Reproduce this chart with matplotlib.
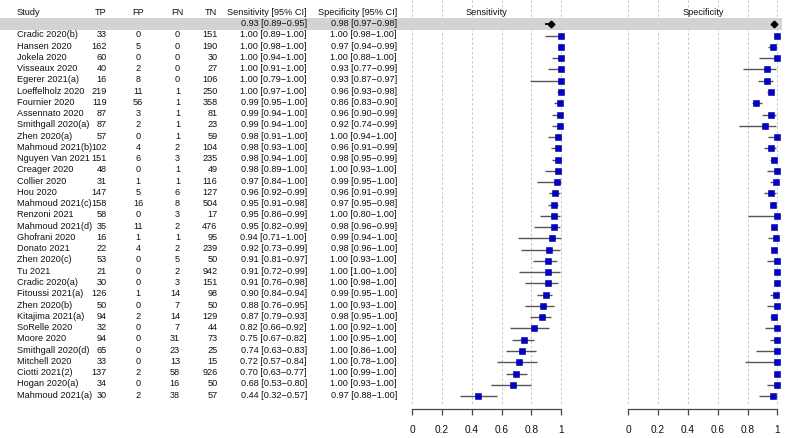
import matplotlib
matplotlib.use("Agg")
import matplotlib.pyplot as plt
from matplotlib.transforms import blended_transform_factory
from matplotlib.patches import Rectangle

studies = ["Cradic 2020(b)", "Hansen 2020", "Jokela 2020", "Visseaux 2020", "Egerer 2021(a)",
           "Loeffelholz 2020", "Fournier 2020", "Assennato 2020", "Smithgall 2020(a)", "Zhen 2020(a)",
           "Mahmoud 2021(b)", "Nguyen Van 2021", "Creager 2020", "Collier 2020", "Hou 2020",
           "Mahmoud 2021(c)", "Renzoni 2021", "Mahmoud 2021(d)", "Ghofrani 2020", "Donato 2021",
           "Zhen 2020(c)", "Tu 2021", "Cradic 2020(a)", "Fitoussi 2021(a)", "Zhen 2020(b)",
           "Kitajima 2021(a)", "SoRelle 2020", "Moore 2020", "Smithgall 2020(d)", "Mitchell 2020",
           "Ciotti 2021(2)", "Hogan 2020(a)", "Mahmoud 2021(a)"]
tp = [33, 162, 60, 40, 16, 219, 119, 87, 87, 57, 102, 151, 48, 31, 147, 158, 58, 35, 16, 22,
      53, 21, 30, 126, 50, 94, 32, 94, 65, 33, 137, 34, 30]
fp = [0, 5, 0, 2, 8, 11, 56, 3, 2, 0, 4, 6, 0, 1, 5, 16, 0, 11, 1, 4,
      0, 0, 0, 1, 0, 2, 0, 0, 0, 0, 2, 0, 2]
fn = [0, 0, 0, 0, 0, 1, 1, 1, 1, 1, 2, 3, 1, 1, 6, 8, 3, 2, 1, 2,
      5, 2, 3, 14, 7, 14, 7, 31, 23, 13, 58, 16, 38]
tn = [151, 190, 30, 27, 106, 250, 358, 81, 23, 59, 104, 235, 49, 116, 127, 504, 17, 476, 95, 239,
      50, 942, 151, 98, 50, 129, 44, 73, 25, 15, 926, 50, 57]
sens = [1.00, 1.00, 1.00, 1.00, 1.00, 1.00, 0.99, 0.99, 0.99, 0.98, 0.98, 0.98, 0.98, 0.97, 0.96,
        0.95, 0.95, 0.95, 0.94, 0.92, 0.91, 0.91, 0.91, 0.90, 0.88, 0.87, 0.82, 0.75, 0.74, 0.72,
        0.70, 0.68, 0.44]
sens_lo = [0.89, 0.98, 0.94, 0.91, 0.79, 0.97, 0.95, 0.94, 0.94, 0.91, 0.93, 0.94, 0.89, 0.84, 0.92,
           0.91, 0.86, 0.82, 0.71, 0.73, 0.81, 0.72, 0.76, 0.84, 0.76, 0.79, 0.66, 0.67, 0.63, 0.57,
           0.63, 0.53, 0.32]
sens_hi = [1.00, 1.00, 1.00, 1.00, 1.00, 1.00, 1.00, 1.00, 1.00, 1.00, 1.00, 1.00, 1.00, 1.00, 0.99,
           0.98, 0.99, 0.99, 1.00, 0.99, 0.97, 0.99, 0.98, 0.94, 0.95, 0.93, 0.92, 0.82, 0.83, 0.84,
           0.77, 0.80, 0.57]
spec = [1.00, 0.97, 1.00, 0.93, 0.93, 0.96, 0.86, 0.96, 0.92, 1.00, 0.96, 0.98, 1.00, 0.99, 0.96,
        0.97, 1.00, 0.98, 0.99, 0.98, 1.00, 1.00, 1.00, 0.99, 1.00, 0.98, 1.00, 1.00, 1.00, 1.00,
        1.00, 1.00, 0.97]
spec_lo = [0.98, 0.94, 0.88, 0.77, 0.87, 0.93, 0.83, 0.90, 0.74, 0.94, 0.91, 0.95, 0.93, 0.95, 0.91,
           0.95, 0.80, 0.96, 0.94, 0.96, 0.93, 1.00, 0.98, 0.95, 0.93, 0.95, 0.92, 0.95, 0.86, 0.78,
           0.99, 0.93, 0.88]
spec_hi = [1.00, 0.99, 1.00, 0.99, 0.97, 0.98, 0.90, 0.99, 0.99, 1.00, 0.99, 0.99, 1.00, 1.00, 0.99,
           0.98, 1.00, 0.99, 1.00, 1.00, 1.00, 1.00, 1.00, 1.00, 1.00, 1.00, 1.00, 1.00, 1.00, 1.00,
           1.00, 1.00, 1.00]
summary_sens = [0.93, 0.89, 0.95]
summary_spec = [0.98, 0.97, 0.98]
ticks = [0, 0.2, 0.4, 0.6, 0.8, 1.0]
tick_labels = ["0", "0.2", "0.4", "0.6", "0.8", "1"]
headers = ["Study", "TP", "FP", "FN", "TN", "Sensitivity [95% CI]", "Specificity [95% CI]"]

plt.rcParams['font.family'] = ['Liberation Sans', 'DejaVu Sans']
FS = 6.6
W, H = 787, 438
ROW0, STEP = 35.7, 11.26
AX_BOTTOM = 409


def row_of_px(p):
    return (p - ROW0) / STEP


fig = plt.figure(figsize=(W / 100, H / 100), dpi=100)
fig.patch.set_facecolor('white')

bg = fig.add_axes([0, 0, 1, 1])
bg.set_xlim(0, W)
bg.set_ylim(row_of_px(H), row_of_px(0))
bg.axis('off')

# gray summary band
bg.add_patch(Rectangle((0, row_of_px(18.3)), 782, row_of_px(30) - row_of_px(18.3),
                       facecolor='#d3d3d3', edgecolor='none', zorder=2))

rows = list(range(len(studies)))


def ci_text(v, lo, hi):
    return f"{v:.2f} [{lo:.2f}\u2212{hi:.2f}]"


TXT_OFF = -0.08  # slight upward shift of text relative to marker rows

# table
col_x = [17, 107, 138, 180, 217.5, 307, 397]
hdr_x = [17, 107, 138, 177.5, 217.5, 307, 397]
hdr_ha = ['left', 'right', 'center', 'center', 'right', 'right', 'right']
val_ha = ['left', 'right', 'center', 'right', 'right', 'right', 'right']
for x, h, ha in zip(hdr_x, headers, hdr_ha):
    bg.text(x, -2 + TXT_OFF, h, ha=ha, va='center', fontsize=FS, zorder=3, color='#111111')
bg.text(col_x[5], -1 + TXT_OFF, ci_text(*summary_sens), ha='right', va='center', fontsize=FS,
        zorder=3, color='#111111')
bg.text(col_x[6], -1 + TXT_OFF, ci_text(*summary_spec), ha='right', va='center', fontsize=FS,
        zorder=3, color='#111111')
for i in rows:
    vals = [studies[i], str(tp[i]), str(fp[i]), str(fn[i]), str(tn[i]),
            ci_text(sens[i], sens_lo[i], sens_hi[i]), ci_text(spec[i], spec_lo[i], spec_hi[i])]
    for x, v, ha in zip(col_x, vals, val_ha):
        bg.text(x, i + TXT_OFF, v, ha=ha, va='center', fontsize=FS, zorder=3, color='#111111')

panels = [
    ("Sensitivity", sens, sens_lo, sens_hi, summary_sens, 412.3, 561.0),
    ("Specificity", spec, spec_lo, spec_hi, summary_spec, 628.3, 777.3),
]
for title, est, lo, hi, summ, x0, x1 in panels:
    ax = fig.add_axes([x0 / W, 1 - AX_BOTTOM / H, (x1 - x0) / W, AX_BOTTOM / H])
    ax.set_xlim(0, 1)
    ax.set_ylim(row_of_px(AX_BOTTOM), row_of_px(0))
    ax.patch.set_alpha(0)
    for s in ['top', 'left', 'right']:
        ax.spines[s].set_visible(False)
    ax.spines['bottom'].set_color('#444444')
    ax.spines['bottom'].set_linewidth(0.9)
    ax.set_yticks([])
    ax.set_xticks(ticks, tick_labels)
    ax.tick_params(axis='x', direction='out', length=4, width=0.9, color='#444444',
                   labelsize=7.3, pad=7.5, labelcolor='#111111')
    # dashed grid on background (below band)
    trans = blended_transform_factory(ax.transData, bg.transData)
    bg.vlines(ticks, row_of_px(0), row_of_px(405), transform=trans, colors='#c4c4c4',
              linestyles=(0, (2.4, 2.4)), linewidth=0.7, zorder=1)
    ax.hlines(rows, lo, hi, colors='#555555', linewidth=1.0, zorder=2, clip_on=False)
    ax.plot(est, rows, 's', color='#0000c8', markeredgecolor='#00008b', markeredgewidth=0.4,
            markersize=3.9, zorder=3, clip_on=False)
    ax.hlines([-1], [summ[1]], [summ[2]], colors='black', linewidth=1.3, zorder=2, clip_on=False)
    ax.plot([summ[0]], [-1], 'D', color='black', markersize=3.4, zorder=3, clip_on=False)
    ax.text(0.5, -2 + TXT_OFF, title, ha='center', va='center', fontsize=FS, color='#111111')

fig.savefig("out.png", dpi=100, facecolor='white')
